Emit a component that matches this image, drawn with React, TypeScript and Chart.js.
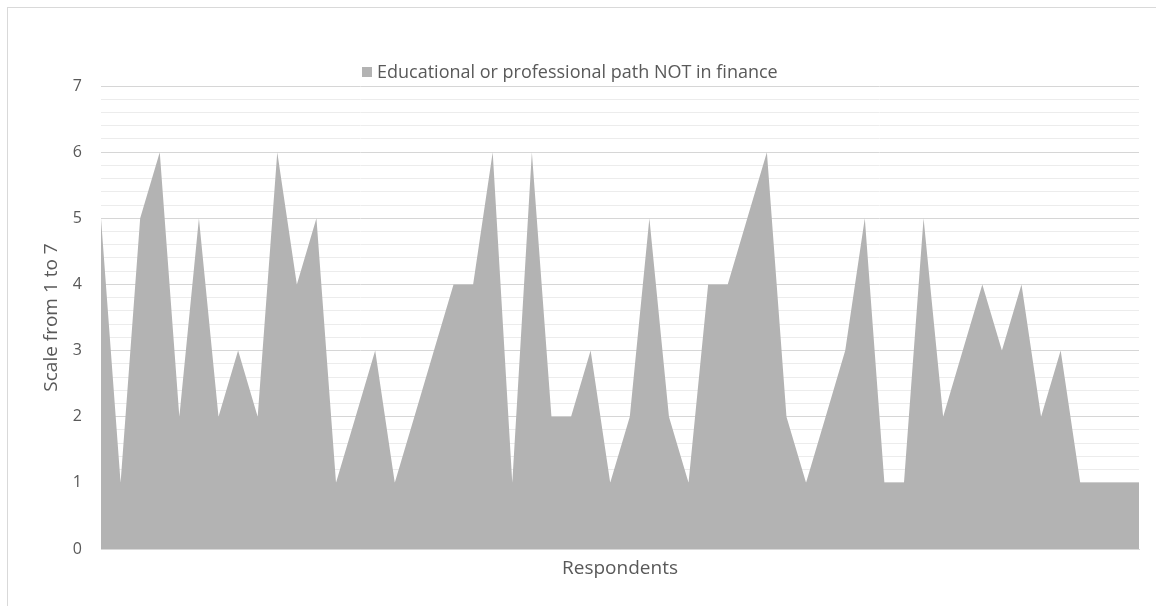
import React, { useEffect, useRef } from "react";
import { Chart, registerables } from "chart.js";

Chart.register(...registerables);

const respondents: string[] = Array.from({ length: 54 }, () => "");
const scores: number[] = [
  5, 1, 5, 6, 2, 5, 2, 3, 2, 6, 4, 5, 1, 2, 3, 1, 2, 3, 4, 4, 6, 1, 6, 2, 2, 3, 1,
  2, 5, 2, 1, 4, 4, 5, 6, 2, 1, 2, 3, 5, 1, 1, 5, 2, 3, 4, 3, 4, 2, 3, 1, 1, 1, 1,
];
const seriesName = "Educational or professional path NOT in finance";
const yTitle = "Scale from 1 to 7";
const xTitle = "Respondents";

const FONT = "'Open Sans', 'Liberation Sans', sans-serif";
const TEXT = "#595959";
const FILL = "#b3b3b3";

const legendPlugin = {
  id: "customLegend",
  afterDraw(chart: any) {
    const ctx = chart.ctx;
    ctx.save();
    ctx.fillStyle = FILL;
    ctx.fillRect(362, 67, 10, 10);
    ctx.fillStyle = TEXT;
    ctx.font = `18px ${FONT}`;
    ctx.textBaseline = "middle";
    ctx.textAlign = "left";
    ctx.fillText(seriesName, 377, 72.5);
    ctx.restore();
  },
};

export default function App() {
  const ref = useRef<HTMLCanvasElement | null>(null);
  useEffect(() => {
    if (!ref.current) return;
    const chart = new Chart(ref.current, {
      type: "line",
      data: {
        labels: respondents,
        datasets: [
          {
            label: seriesName,
            data: scores,
            fill: "origin",
            backgroundColor: FILL,
            borderWidth: 0,
            borderColor: FILL,
            pointRadius: 0,
            tension: 0,
          },
        ],
      },
      options: {
        animation: false,
        responsive: false,
        maintainAspectRatio: false,
        layout: { padding: { top: 86, left: 33, right: 17, bottom: 0 } },
        plugins: {
          legend: { display: false },
          tooltip: { enabled: false },
        },
        scales: {
          x: {
            type: "category",
            offset: false,
            grid: { display: false, drawTicks: false },
            border: { display: true, color: "#d9d9d9", width: 1 },
            ticks: { display: false },
            title: {
              display: true,
              text: xTitle,
              color: TEXT,
              font: { family: FONT, size: 19 },
              padding: { top: 0, bottom: 26 },
            },
            afterFit: (scale: any) => {
              scale.height = 57;
            },
          },
          y: {
            min: 0,
            max: 7,
            grid: {
              drawTicks: false,
              color: (c: any) => {
                const v = c.tick ? c.tick.value : 0;
                return Math.abs(v - Math.round(v)) < 1e-6 ? "#d6d6d6" : "#ececec";
              },
              lineWidth: 1,
            },
            border: { display: false },
            ticks: {
              stepSize: 0.2,
              autoSkip: false,
              padding: 19,
              color: TEXT,
              font: { family: FONT, size: 16 },
              callback: (v: any) => {
                const n = Number(v);
                return Math.abs(n - Math.round(n)) < 1e-6 ? String(Math.round(n)) : "";
              },
            },
            title: {
              display: true,
              text: yTitle,
              color: TEXT,
              font: { family: FONT, size: 19 },
              padding: { top: 7, bottom: 0 },
            },
            afterFit: (scale: any) => {
              scale.width = 68;
            },
          },
        },
      },
      plugins: [legendPlugin],
    });
    return () => chart.destroy();
  }, []);

  return (
    <div
      style={{
        position: "fixed",
        left: 0,
        top: 0,
        width: 1156,
        height: 606,
        overflow: "hidden",
        background: "#ffffff",
      }}
    >
      <div
        style={{
          position: "absolute",
          left: 7,
          top: 7,
          width: 1300,
          height: 800,
          border: "1.5px solid #d9d9d9",
          boxSizing: "border-box",
        }}
      />
      <canvas
        ref={ref}
        width={1156}
        height={606}
        style={{ position: "absolute", left: 0, top: 0, width: 1156, height: 606 }}
      />
    </div>
  );
}
